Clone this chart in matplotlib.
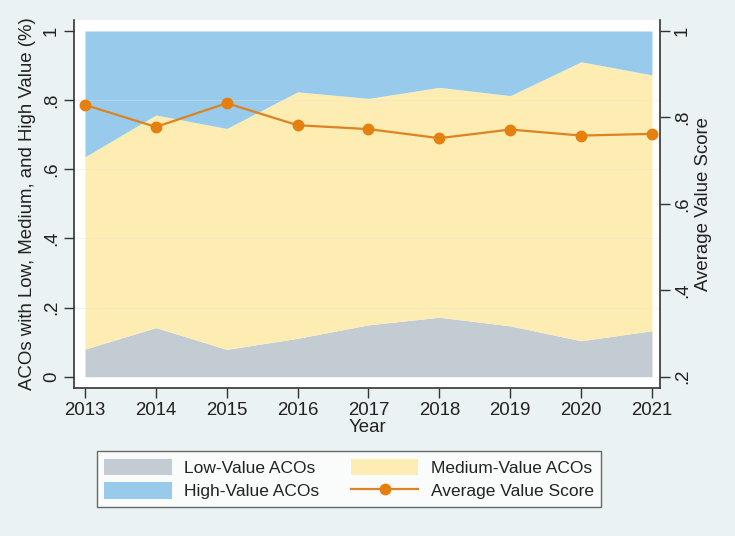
import matplotlib
matplotlib.use("Agg")
from matplotlib import pyplot as plt
from matplotlib.patches import Patch
from matplotlib.lines import Line2D

plt.rcParams['font.family'] = ['Liberation Sans', 'DejaVu Sans']

# Data
years = [2013, 2014, 2015, 2016, 2017, 2018, 2019, 2020, 2021]
low_share = [0.080, 0.142, 0.079, 0.111, 0.150, 0.172, 0.147, 0.104, 0.133]
low_plus_medium = [0.636, 0.757, 0.718, 0.824, 0.805, 0.837, 0.813, 0.911, 0.873]
avg_score = [0.829, 0.778, 0.833, 0.782, 0.773, 0.752, 0.772, 0.758, 0.762]

left_ticks = [0, 0.2, 0.4, 0.6, 0.8, 1]
left_labels = ["0", ".2", ".4", ".6", ".8", "1"]
right_ticks = [0.2, 0.4, 0.6, 0.8, 1]
right_labels = [".2", ".4", ".6", ".8", "1"]

c_low = "#c3cbd3"
c_med = "#fdedb2"
c_high = "#98cbeb"
c_line = "#dc8422"
c_mark = "#e57f0e"
c_bg = "#eaf2f3"
c_axis = "#333333"
fs = 13.4

fig = plt.figure(figsize=(7.35, 5.36), dpi=100, facecolor=c_bg)
ax = fig.add_axes([74 / 735, 1 - 388 / 536, 586 / 735, 368 / 536])
ax.set_facecolor("white")

ax.fill_between(years, 0, low_share, color=c_low, lw=0, zorder=1)
ax.fill_between(years, low_share, low_plus_medium, color=c_med, lw=0, zorder=1)
ax.fill_between(years, low_plus_medium, 1, color=c_high, lw=0, zorder=1)

# faint grid lines showing through the areas
for t in left_ticks[1:-1]:
    ax.axhline(t, color="#e4e4e4", lw=0.6, alpha=0.45, zorder=2)

ax.set_xlim(2012.845, 2021.113)
ax.set_ylim(-0.0327, 1.0318)
ax.set_xticks(years)
ax.set_xticklabels([str(y) for y in years])
ax.set_yticks(left_ticks)
ax.set_yticklabels(left_labels, rotation=90, va="center")
ax.tick_params(axis="both", direction="out", length=7, width=1, colors=c_axis,
               labelsize=fs, labelcolor="#222222", pad=3)
for s in ["top", "right"]:
    ax.spines[s].set_visible(False)
for s in ["left", "bottom"]:
    ax.spines[s].set_color(c_axis)
    ax.spines[s].set_linewidth(1.2)
ax.set_xlabel("Year", fontsize=fs, color="#222222", labelpad=0)
ax.set_ylabel("ACOs with Low, Medium, and High Value (%)", fontsize=fs,
              color="#222222", labelpad=5)

ax2 = ax.twinx()
ax2.plot(years, avg_score, color=c_line, lw=1.6, marker="o", markersize=7.5,
         markerfacecolor=c_mark, markeredgecolor=c_mark, zorder=3)
ax2.set_ylim(0.1738, 1.0255)
ax2.set_yticks(right_ticks)
ax2.set_yticklabels(right_labels, rotation=90, va="center")
ax2.tick_params(axis="y", direction="out", length=7, width=1, colors=c_axis,
                labelsize=fs, labelcolor="#222222", pad=3)
for s in ["top", "left", "bottom"]:
    ax2.spines[s].set_visible(False)
ax2.spines["right"].set_color(c_axis)
ax2.spines["right"].set_linewidth(1.2)
ax2.set_ylabel("Average Value Score", fontsize=fs, color="#222222", labelpad=3)

handles = [
    Patch(facecolor=c_low, edgecolor="none"),
    Patch(facecolor=c_high, edgecolor="none"),
    Patch(facecolor=c_med, edgecolor="none"),
    Line2D([], [], color=c_line, lw=1.6, marker="o", markersize=7.5,
           markerfacecolor=c_mark, markeredgecolor=c_mark),
]
labels = ["Low-Value ACOs", "High-Value ACOs", "Medium-Value ACOs", "Average Value Score"]
leg = fig.legend(handles, labels, ncol=2, loc="center",
                 bbox_to_anchor=(349 / 735, 1 - 479 / 536), fontsize=12.5,
                 frameon=True, fancybox=False, edgecolor="#444444",
                 handlelength=3.9, handleheight=1.1, handletextpad=0.7,
                 columnspacing=1.8, labelspacing=0.35, borderpad=0.45)
leg.get_frame().set_linewidth(1.0)
for t in leg.get_texts():
    t.set_color("#222222")

fig.savefig("out.png", dpi=100, facecolor=c_bg)
